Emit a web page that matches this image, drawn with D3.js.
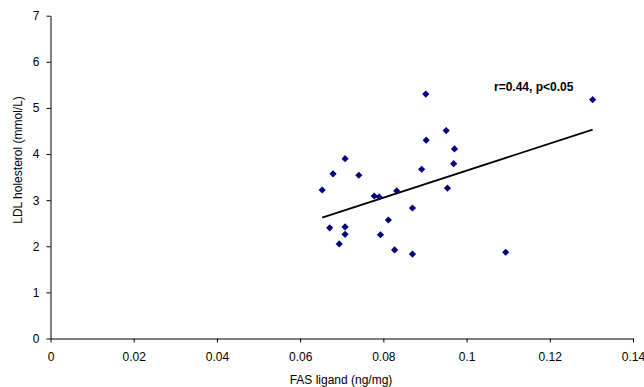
<!DOCTYPE html>
<html>
<head>
<meta charset="utf-8">
<script src="https://cdn.jsdelivr.net/npm/d3@7"></script>
<style>
  body { margin: 0; background: #fff; }
  svg { display: block; font-family: "Liberation Sans", Arial, sans-serif; }
  .axis path, .axis line { stroke: #000; }
  .axis text { fill: #000; font-size: 12px; }
</style>
</head>
<body>
<svg id="chart" width="644" height="387"></svg>
<script>
// FAS ligand (ng/mg) values for each subject
var fasLigand = [0.0653, 0.0679, 0.0708, 0.0741, 0.0778, 0.0790, 0.0832, 0.0892,
  0.0902, 0.0903, 0.0951, 0.0971, 0.0969, 0.0954, 0.0870, 0.0812, 0.0793,
  0.0827, 0.0870, 0.0671, 0.0708, 0.0708, 0.0694, 0.1094, 0.1303];
// LDL cholesterol (mmol/L)
var ldl = [3.22, 3.57, 3.90, 3.54, 3.09, 3.07, 3.20, 3.67,
  5.30, 4.30, 4.51, 4.11, 3.79, 3.26, 2.83, 2.57, 2.25,
  1.92, 1.83, 2.40, 2.42, 2.26, 2.05, 1.87, 5.18];

// linear trendline end points
var trendX = [0.0653, 0.1303];
var trendY = [2.62, 4.53];

var xTicks = [0, 0.02, 0.04, 0.06, 0.08, 0.1, 0.12, 0.14];
var yTicks = [0, 1, 2, 3, 4, 5, 6, 7];
var statLabel = "r=0.44, p<0.05";

var svg = d3.select("#chart");

var x = d3.scaleLinear().domain([0, 0.14]).range([50.5, 633]);
var y = d3.scaleLinear().domain([0, 7]).range([338.5, 15.7]);

var xAxis = d3.axisBottom(x)
    .tickValues(xTicks)
    .tickFormat(d3.format("~g"))
    .tickSize(4)
    .tickSizeOuter(0)
    .tickPadding(10);

var yAxis = d3.axisLeft(y)
    .tickValues(yTicks)
    .tickFormat(d3.format("d"))
    .tickSize(4)
    .tickSizeOuter(0)
    .tickPadding(7);

svg.append("g")
    .attr("class", "axis")
    .attr("transform", "translate(0," + y(0) + ")")
    .call(xAxis);

svg.append("g")
    .attr("class", "axis")
    .attr("transform", "translate(" + x(0) + ",0)")
    .call(yAxis);

// axis titles
svg.append("text")
    .attr("x", 341)
    .attr("y", 384)
    .attr("text-anchor", "middle")
    .style("font-size", "12px")
    .text("FAS ligand (ng/mg)");

svg.append("text")
    .attr("transform", "translate(22,160) rotate(-90)")
    .attr("text-anchor", "middle")
    .style("font-size", "12px")
    .text("LDL holesterol (mmol/L)");

// trendline
var line = d3.line()
    .x(function (d) { return x(d[0]); })
    .y(function (d) { return y(d[1]); });

svg.append("path")
    .attr("d", line(d3.zip(trendX, trendY)))
    .attr("fill", "none")
    .attr("stroke", "#000")
    .attr("stroke-width", 1.7);

// points
var diamond = d3.symbol().type(d3.symbolSquare).size(26);

svg.append("g")
    .selectAll("path")
    .data(d3.zip(fasLigand, ldl))
    .enter().append("path")
    .attr("d", diamond)
    .attr("fill", "#000080")
    .attr("transform", function (d) {
        return "translate(" + x(d[0]) + "," + y(d[1]) + ") rotate(45)";
    });

svg.append("text")
    .attr("x", 494)
    .attr("y", 91)
    .style("font-size", "12px")
    .style("font-weight", "bold")
    .text(statLabel);
</script>
</body>
</html>
